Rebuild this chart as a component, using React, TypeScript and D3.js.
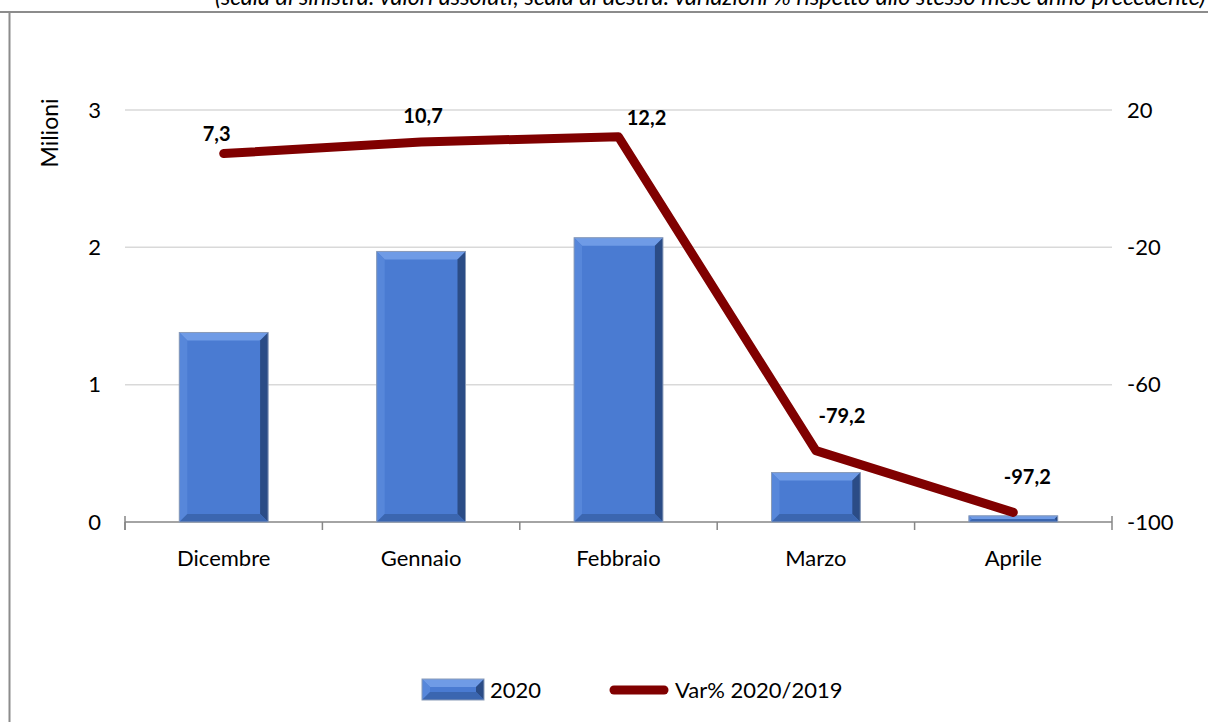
import React from "react";
import * as d3 from "d3";

const categories = ["Dicembre", "Gennaio", "Febbraio", "Marzo", "Aprile"];
const values2020 = [1.38, 1.97, 2.07, 0.36, 0.045];
const varPct = [7.3, 10.7, 12.2, -79.2, -97.2];
const leftTicks = [0, 1, 2, 3];
const rightTicks = [-100, -60, -20, 20];

const W = 1208;
const H = 722;
const FONT = "Lato, 'Open Sans', 'Liberation Sans', sans-serif";

export default function App() {
  const x0 = 125, x1 = 1112, yTop = 110, yBot = 522;
  const x = d3.scaleBand<string>().domain(categories).range([x0, x1]).paddingInner(0).paddingOuter(0);
  const yL = d3.scaleLinear().domain([0, 3]).range([yBot, yTop]);
  const yR = d3.scaleLinear().domain([-100, 20]).range([yBot, yTop]);
  const bw = x.bandwidth();
  const barW = bw * 0.45;
  const cx = (c: string) => (x(c) as number) + bw / 2;
  const line = d3
    .line<number>()
    .x((_, i) => cx(categories[i]))
    .y((d) => yR(d));
  const labelDx = [-7, 2, 28, 26, 14];
  const labelDy = [-13, -19, -12, -28, -28];
  const fmt = (v: number) => v.toFixed(1).replace(".", ",");
  const bev = 8;

  const bar = (bx: number, by: number, w: number, h: number, key: string) => {
    const b = Math.min(bev, h / 2, w / 2);
    const r = bx + w, btm = by + h;
    return (
      <g key={key}>
        <rect x={bx} y={by} width={w} height={h} fill="#4a7bd2" />
        <polygon points={`${bx},${by} ${r},${by} ${r - b},${by + b} ${bx + b},${by + b}`} fill="#6f9be6" />
        <polygon points={`${bx},${by} ${bx + b},${by + b} ${bx + b},${btm - b} ${bx},${btm}`} fill="#5787da" />
        <polygon points={`${r},${by} ${r},${btm} ${r - b},${btm - b} ${r - b},${by + b}`} fill="#2b4c86" />
        <polygon points={`${bx},${btm} ${r},${btm} ${r - b},${btm - b} ${bx + b},${btm - b}`} fill="#3b66b0" />
        <rect x={bx} y={by} width={w} height={h} fill="none" stroke="#8a9bb8" strokeWidth={1} />
      </g>
    );
  };

  return (
    <svg
      width={W}
      height={H}
      style={{ position: "absolute", left: 0, top: 0, background: "#fff" }}
      fontFamily={FONT}
    >
      <text x={215} y={5} fontSize={23.5} fontStyle="italic" fill="#000">
        (scala di sinistra: valori assoluti; scala di destra: variazioni % rispetto allo stesso mese anno precedente)
      </text>
      {/* frame */}
      <line x1={0} x2={W} y1={12} y2={12} stroke="#8c8c8c" strokeWidth={2} />
      <line x1={9.5} x2={9.5} y1={12} y2={H} stroke="#8c8c8c" strokeWidth={2} />

      {/* gridlines */}
      {leftTicks.map((t) =>
        t === 0 ? null : (
          <line key={t} x1={x0} x2={x1} y1={yL(t)} y2={yL(t)} stroke="#d9d9d9" strokeWidth={1.5} />
        )
      )}
      {/* x axis */}
      <line x1={x0} x2={x1} y1={yBot} y2={yBot} stroke="#868686" strokeWidth={1.5} />
      {categories.map((c) => (
        <line key={c} x1={x(c)} x2={x(c)} y1={yBot} y2={yBot + 8} stroke="#868686" strokeWidth={1.5} />
      ))}
      <line x1={x0} x2={x0} y1={yBot - 6} y2={yBot + 8} stroke="#868686" strokeWidth={1.5} />
      <line x1={x1} x2={x1} y1={yBot - 6} y2={yBot + 8} stroke="#868686" strokeWidth={1.5} />

      {/* left ticks */}
      {leftTicks.map((t) => (
        <text key={t} x={101} y={yL(t)} dy="0.35em" textAnchor="end" fontSize={22} fill="#000">
          {t}
        </text>
      ))}
      {rightTicks.map((t) => (
        <text key={t} x={1127} y={yR(t)} dy="0.35em" textAnchor="start" fontSize={22} fill="#000">
          {t}
        </text>
      ))}
      <text
        transform={`translate(58,133) rotate(-90)`}
        textAnchor="middle"
        fontSize={23}
        fill="#000"
      >
        Milioni
      </text>

      {/* category labels */}
      {categories.map((c) => (
        <text key={c} x={cx(c)} y={566} textAnchor="middle" fontSize={22} fill="#000">
          {c}
        </text>
      ))}

      {/* bars */}
      {categories.map((c, i) =>
        bar(cx(c) - barW / 2, yL(values2020[i]), barW, yBot - yL(values2020[i]), c)
      )}

      {/* line */}
      <path
        d={line(varPct) || ""}
        fill="none"
        stroke="#800000"
        strokeWidth={9}
        strokeLinecap="round"
        strokeLinejoin="round"
      />
      {varPct.map((v, i) => (
        <text
          key={i}
          x={cx(categories[i]) + labelDx[i]}
          y={yR(v) + labelDy[i]}
          textAnchor="middle"
          fontSize={20}
          fontWeight="bold"
          fill="#000"
        >
          {fmt(v)}
        </text>
      ))}

      {/* legend */}
      {bar(422, 679, 62, 21, "leg")}
      <text x={490} y={698} fontSize={22} fill="#000">2020</text>
      <line x1={614} x2={664} y1={690} y2={690} stroke="#800000" strokeWidth={9} strokeLinecap="round" />
      <text x={675} y={698} fontSize={22} fill="#000">Var% 2020/2019</text>
    </svg>
  );
}
